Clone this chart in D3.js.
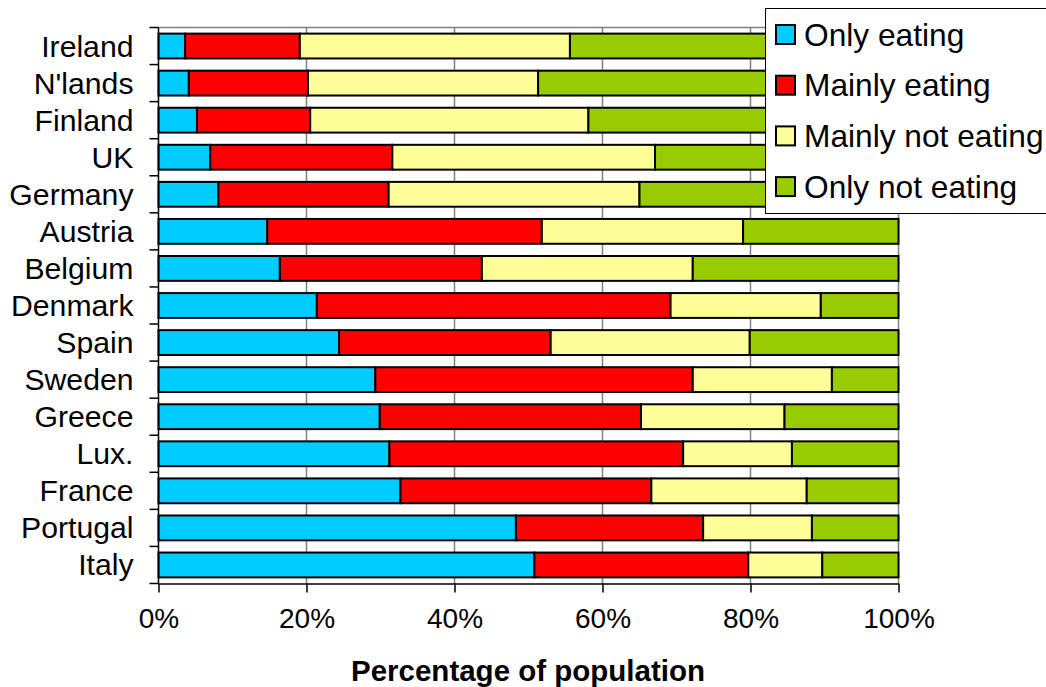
<!DOCTYPE html>
<html>
<head>
<meta charset="utf-8">
<script src="https://cdn.jsdelivr.net/npm/d3@7"></script>
<style>
  html, body { margin: 0; padding: 0; background: #fff; }
  svg { display: block; font-family: Arial, "Liberation Sans", sans-serif; }
</style>
</head>
<body>
<svg id="chart" width="1046" height="687"></svg>
<script>
const categories = ["Ireland","N'lands","Finland","UK","Germany","Austria","Belgium","Denmark","Spain","Sweden","Greece","Lux.","France","Portugal","Italy"];
const seriesNames = ["Only eating","Mainly eating","Mainly not eating","Only not eating"];
const onlyEating     = [3.6, 4.1, 5.2, 7.0, 8.1, 14.7, 16.4, 21.4, 24.4, 29.3, 29.9, 31.2, 32.7, 48.3, 50.8];
const mainlyEating   = [15.5, 16.1, 15.3, 24.6, 23.0, 37.1, 27.3, 47.8, 28.6, 42.9, 35.3, 39.7, 33.9, 25.3, 28.9];
const mainlyNot      = [36.5, 31.1, 37.6, 35.5, 33.9, 27.2, 28.5, 20.3, 26.9, 18.8, 19.4, 14.7, 21.0, 14.7, 10.0];
const onlyNot        = [44.4, 48.7, 41.9, 32.9, 35.0, 21.0, 27.8, 10.5, 20.1, 9.0, 15.4, 14.4, 12.4, 11.7, 10.3];
const xTicks = [0, 20, 40, 60, 80, 100];
const xTitle = "Percentage of population";
const colors = ["#00CCFF", "#FF0000", "#FFFF99", "#99CC00"];

const rows = categories.map((c, i) => ({
  cat: c,
  [seriesNames[0]]: onlyEating[i],
  [seriesNames[1]]: mainlyEating[i],
  [seriesNames[2]]: mainlyNot[i],
  [seriesNames[3]]: onlyNot[i]
}));

const svg = d3.select("#chart");
const pLeft = 158.5, pRight = 898.5, pTop = 27.5, pBottom = 583.5;

const x = d3.scaleLinear().domain([0, 100]).range([pLeft, pRight]);
const y = d3.scaleBand().domain(categories).range([pTop, pBottom]).paddingInner(0.33).paddingOuter(0.165);

// gridlines
svg.append("g").selectAll("line").data(xTicks.filter(t => t > 0 && t < 100)).join("line")
  .attr("x1", d => x(d)).attr("x2", d => x(d))
  .attr("y1", pTop).attr("y2", pBottom)
  .attr("stroke", "#808080").attr("stroke-width", 1.5);

// plot border (top & right)
svg.append("path")
  .attr("d", `M${pLeft},${pTop}H${pRight}V${pBottom}`)
  .attr("fill", "none").attr("stroke", "#808080").attr("stroke-width", 1.5);

// bars
const stack = d3.stack().keys(seriesNames);
const stacked = stack(rows);
svg.append("g").selectAll("g").data(stacked).join("g")
  .attr("fill", (d, i) => colors[i])
  .selectAll("rect").data(d => d).join("rect")
  .attr("x", d => x(d[0]))
  .attr("width", d => x(d[1]) - x(d[0]))
  .attr("y", d => y(d.data.cat))
  .attr("height", y.bandwidth())
  .attr("stroke", "#000").attr("stroke-width", 2);

// y axis
const yAxis = svg.append("g").attr("transform", `translate(${pLeft},0)`);
yAxis.append("line").attr("x1", 0).attr("x2", 0).attr("y1", pTop).attr("y2", pBottom).attr("stroke", "#000").attr("stroke-width", 1.5);
const bounds = categories.map(c => y(c) - y.step() * y.paddingInner() / 2);
bounds.push(pBottom);
bounds[0] = pTop;
yAxis.selectAll("line.tick").data(bounds).join("line").attr("class", "tick")
  .attr("x1", -9).attr("x2", 0).attr("y1", d => d).attr("y2", d => d)
  .attr("stroke", "#000").attr("stroke-width", 1.5);
yAxis.selectAll("text").data(categories).join("text")
  .attr("x", -25).attr("y", d => y(d) + y.bandwidth() / 2 + 10.5)
  .attr("text-anchor", "end").attr("font-size", 30.2).attr("fill", "#000")
  .text(d => d);

// x axis
const xAxis = svg.append("g").attr("transform", `translate(0,${pBottom})`)
  .call(d3.axisBottom(x).tickValues(xTicks).tickFormat(d => d + "%").tickSize(9).tickSizeOuter(0).tickPadding(16));
xAxis.select(".domain").attr("stroke", "#000").attr("stroke-width", 1.5);
xAxis.selectAll(".tick line").attr("stroke", "#000").attr("stroke-width", 1.5);
xAxis.selectAll(".tick text").attr("font-size", 28).attr("fill", "#000").attr("font-family", "Arial, 'Liberation Sans', sans-serif");

svg.append("text").attr("x", 528).attr("y", 681)
  .attr("text-anchor", "middle").attr("font-size", 29.5).attr("font-weight", "bold").attr("fill", "#000")
  .text(xTitle);

// legend
const lg = svg.append("g");
lg.append("rect").attr("x", 765.5).attr("y", 8.5).attr("width", 300).attr("height", 205)
  .attr("fill", "#fff").attr("stroke", "#000").attr("stroke-width", 1);
const li = lg.selectAll("g").data(seriesNames).join("g")
  .attr("transform", (d, i) => `translate(776, ${25 + i * 50.7})`);
li.append("rect").attr("width", 19).attr("height", 19)
  .attr("fill", (d, i) => colors[i]).attr("stroke", "#000").attr("stroke-width", 2);
li.append("text").attr("x", 28).attr("y", 20.5).attr("font-size", 31.7).attr("fill", "#000").text(d => d);
</script>
</body>
</html>
